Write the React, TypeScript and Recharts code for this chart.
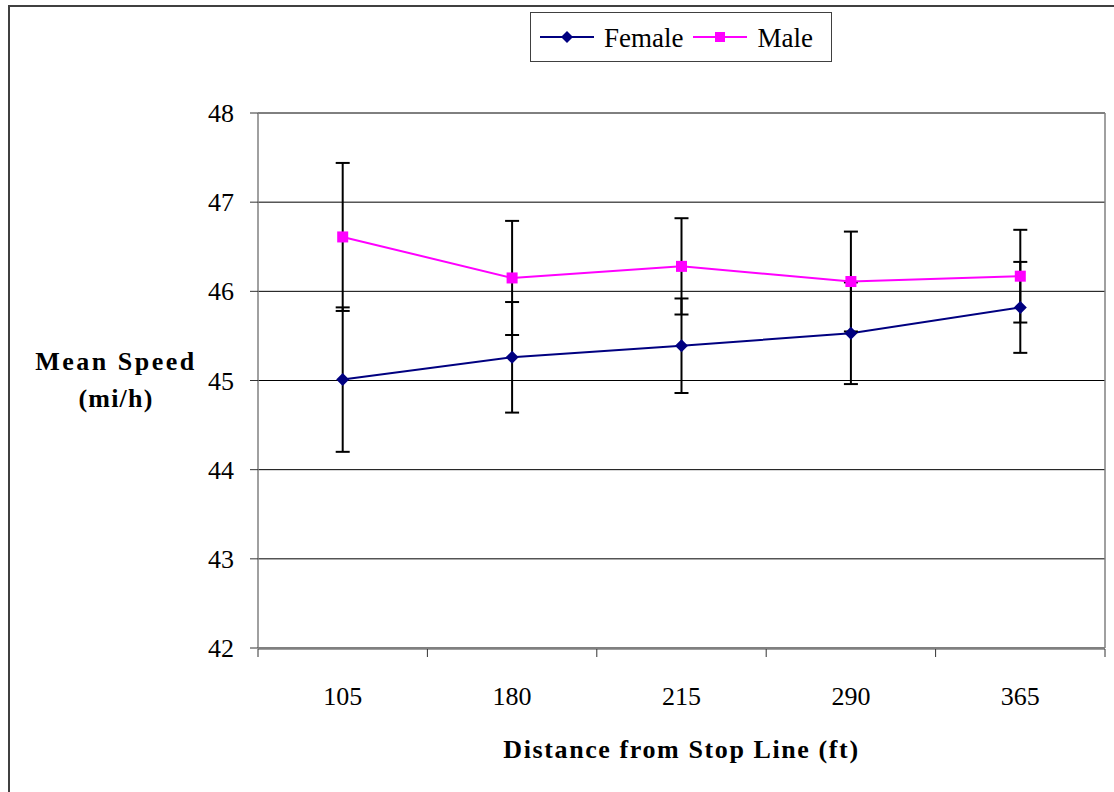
import { CartesianGrid, ErrorBar, Label, Legend, Line, LineChart, XAxis, YAxis } from 'recharts'

const CATEGORIES = ['105', '180', '215', '290', '365']
const FEMALE_MEAN = [45.01, 45.26, 45.39, 45.53, 45.82]
const FEMALE_ERR = [0.81, 0.62, 0.53, 0.57, 0.51]
const MALE_MEAN = [46.61, 46.15, 46.28, 46.11, 46.17]
const MALE_ERR = [0.83, 0.64, 0.54, 0.56, 0.52]
const Y_TICKS = [42, 43, 44, 45, 46, 47, 48]

const FEMALE_COLOR = '#000080'
const MALE_COLOR = '#ff00ff'
const FONT = 'Liberation Serif, Times New Roman, serif'

// category i sits in the middle of slot [i, i+1]
const chartData = CATEGORIES.map((c, i) => ({
    pos: i + 0.5,
    name: c,
    female: FEMALE_MEAN[i],
    femaleErr: FEMALE_ERR[i],
    male: MALE_MEAN[i],
    maleErr: MALE_ERR[i],
}))

const slotEdges = CATEGORIES.map((_, i) => i).concat(CATEGORIES.length)
const slotCenters = CATEGORIES.map((_, i) => i + 0.5)

function Diamond({ cx, cy, r = 6.5 }: { cx: number; cy: number; r?: number }) {
    return <polygon points={`${cx},${cy - r} ${cx + r},${cy} ${cx},${cy + r} ${cx - r},${cy}`} fill={FEMALE_COLOR} />
}

function Square({ cx, cy, s = 11 }: { cx: number; cy: number; s?: number }) {
    return <rect x={cx - s / 2} y={cy - s / 2} width={s} height={s} fill={MALE_COLOR} />
}

function LegendBox() {
    const item = (label: string, color: string, marker: 'diamond' | 'square') => (
        <div style={{ display: 'flex', alignItems: 'center', marginRight: 10 }}>
            <svg width={56} height={20} style={{ marginRight: 8 }}>
                <line x1={0} y1={10} x2={54} y2={10} stroke={color} strokeWidth={2} />
                {marker === 'diamond' ? <Diamond cx={27} cy={10} r={6} /> : <Square cx={27} cy={10} s={10} />}
            </svg>
            <span style={{ fontSize: 27, lineHeight: '27px', paddingTop: 3 }}>{label}</span>
        </div>
    )
    return (
        <div
            style={{
                display: 'flex',
                alignItems: 'center',
                border: '1.5px solid #404040',
                height: 50,
                boxSizing: 'border-box',
                paddingLeft: 9,
                fontFamily: FONT,
                background: '#fff',
            }}
        >
            {item('Female', FEMALE_COLOR, 'diamond')}
            {item('Male', MALE_COLOR, 'square')}
        </div>
    )
}

function YTick(props: any) {
    const { x, y, payload } = props
    return (
        <text x={x} y={y} dy={9} textAnchor="end" fontFamily={FONT} fontSize={26} fill="#000">
            {payload.value}
        </text>
    )
}

function XTick(props: any) {
    const { x, y, payload } = props
    return (
        <text x={x} y={y} dy={27} textAnchor="middle" fontFamily={FONT} fontSize={26} fill="#000">
            {CATEGORIES[Math.floor(payload.value)]}
        </text>
    )
}

function YTitle(props: any) {
    const { viewBox } = props
    const x = viewBox.x - 82
    const mid = viewBox.y + viewBox.height / 2
    return (
        <text textAnchor="middle" fontFamily={FONT} fontWeight="bold" fontSize={26} fill="#000">
            <tspan x={x} y={mid - 11} letterSpacing={2.5}>Mean Speed</tspan>
            <tspan x={x} y={mid + 26} letterSpacing={1.2}>(mi/h)</tspan>
        </text>
    )
}

function XTitle(props: any) {
    const { viewBox } = props
    return (
        <text
            x={viewBox.x + viewBox.width / 2}
            y={viewBox.y + 110}
            textAnchor="middle"
            fontFamily={FONT}
            fontWeight="bold"
            fontSize={26}
            letterSpacing={1.6}
            fill="#000"
        >
            Distance from Stop Line (ft)
        </text>
    )
}

export default function App() {
    return (
        <div style={{ position: 'absolute', left: 0, top: 0, width: 1114, height: 792, fontFamily: FONT, background: '#fff' }}>
            <div
                style={{
                    position: 'absolute',
                    left: 8,
                    top: 5,
                    width: 1106,
                    height: 787,
                    borderTop: '2px solid #404040',
                    borderLeft: '2px solid #404040',
                    boxSizing: 'border-box',
                }}
            />
            <LineChart
                width={1114}
                height={792}
                data={chartData}
                margin={{ top: 113, right: 8, left: 198, bottom: 142 }}
                style={{ position: 'absolute', left: 0, top: 0 }}
            >
                <CartesianGrid vertical={false} stroke="#000" strokeWidth={1} xAxisId="edge" yAxisId="left" />
                <XAxis
                    xAxisId="edge"
                    type="number"
                    dataKey="pos"
                    domain={[0, CATEGORIES.length]}
                    allowDataOverflow
                    ticks={slotEdges}
                    interval={0}
                    height={1}
                    tickSize={8}
                    tick={() => <g />}
                    tickLine={{ stroke: '#333' }}
                    axisLine={{ stroke: '#808080', strokeWidth: 1.5 }}
                />
                <XAxis
                    xAxisId="cat"
                    type="number"
                    dataKey="pos"
                    domain={[0, CATEGORIES.length]}
                    allowDataOverflow
                    ticks={slotCenters}
                    interval={0}
                    height={1}
                    tickSize={0}
                    tickMargin={30}
                    tickLine={false}
                    axisLine={false}
                    tick={XTick}
                >
                    <Label content={XTitle} />
                </XAxis>
                <YAxis
                    yAxisId="left"
                    width={60}
                    domain={[42, 48]}
                    ticks={Y_TICKS}
                    interval={0}
                    tickSize={8}
                    tickMargin={16}
                    tickLine={{ stroke: '#333' }}
                    axisLine={{ stroke: '#808080', strokeWidth: 1.5 }}
                    tick={YTick}
                >
                    <Label content={YTitle} />
                </YAxis>
                <YAxis
                    yAxisId="right"
                    orientation="right"
                    width={1}
                    domain={[42, 48]}
                    tick={false}
                    tickLine={false}
                    axisLine={{ stroke: '#808080', strokeWidth: 1.5 }}
                />
                <Legend
                    layout="horizontal"
                    verticalAlign="middle"
                    align="center"
                    wrapperStyle={{ top: 12, left: 530, width: 302 }}
                    content={() => <LegendBox />}
                />
                <Line
                    xAxisId="cat"
                    yAxisId="left"
                    dataKey="female"
                    name="Female"
                    type="linear"
                    stroke={FEMALE_COLOR}
                    strokeWidth={2}
                    isAnimationActive={false}
                    dot={(p: any) => <Diamond key={`f-${p.index}`} cx={p.cx} cy={p.cy} />}
                    activeDot={false}
                >
                    <ErrorBar dataKey="femaleErr" direction="y" width={7} stroke="#000" strokeWidth={2} />
                </Line>
                <Line
                    xAxisId="cat"
                    yAxisId="left"
                    dataKey="male"
                    name="Male"
                    type="linear"
                    stroke={MALE_COLOR}
                    strokeWidth={2}
                    isAnimationActive={false}
                    dot={(p: any) => <Square key={`m-${p.index}`} cx={p.cx} cy={p.cy} />}
                    activeDot={false}
                >
                    <ErrorBar dataKey="maleErr" direction="y" width={7} stroke="#000" strokeWidth={2} />
                </Line>
            </LineChart>
        </div>
    )
}
